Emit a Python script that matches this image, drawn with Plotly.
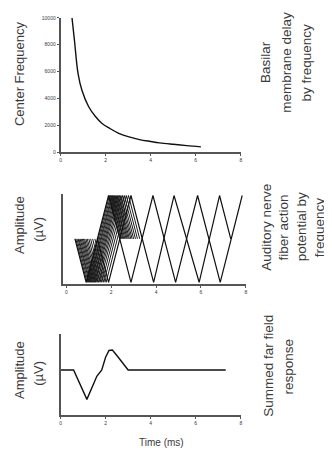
import plotly.graph_objects as go

# page body adds an 8px margin, so the figure is 8px smaller and coordinates are shifted
W, H = 332, 455
OFF = 8
FW, FH = W - OFF, H - OFF

# ---- Panel 1: basilar membrane delay by frequency ----
bm_time = [0.51, 0.62, 0.78, 0.95, 1.25, 1.55, 1.83, 2.2, 2.56, 3.0, 3.5, 4.0, 4.4, 5.0, 5.6, 6.23]
bm_freq = [10000, 8300, 5830, 4610, 3380, 2650, 2150, 1750, 1420, 1150, 930, 790, 690, 580, 480, 390]

# ---- Panel 2: auditory nerve fiber action potentials ----
unit_starts = [0.42, 0.47, 0.52, 0.56, 0.61, 0.66, 0.71, 0.76, 0.81, 0.87, 0.93, 1.0, 1.08, 1.17, 1.27]
unit_shape_t = [0.0, 0.5, 1.5, 2.0]
unit_shape_a = [0.5, 0.0, 1.0, 0.5]
longA_t = [0.38, 0.88, 1.88, 2.88, 3.86, 4.87, 5.85, 6.86, 7.84]
longA_a = [0.5, 0.0, 1.0, 0.0, 1.0, 0.0, 1.0, 0.0, 1.0]
longB_t = [1.38, 1.88, 2.88, 3.89, 4.80, 5.92, 6.83, 7.33]
longB_a = [0.5, 0.0, 1.0, 0.0, 1.0, 0.0, 1.0, 0.5]

# ---- Panel 3: summed far field response ----
sum_t = [0.0, 0.58, 1.17, 1.61, 1.83, 2.0, 2.15, 2.3, 2.5, 3.0, 7.33]
sum_v = [0.0, 0.0, -0.646, -0.139, 0.0, 0.28, 0.43, 0.44, 0.32, 0.0, 0.0]

ticks_x = [0, 2, 4, 6, 8]
ticks_f = [0, 2000, 4000, 6000, 8000, 10000]
ticks_f_text = ["0", "2000", "4000", "6000", "8000", "10000"]

LINE = dict(color="#111111", width=1.4)
AX = "#555555"
TXT = "#3a3a3a"
FONT = "Liberation Sans, Arial, sans-serif"

fig = go.Figure()
fig.add_trace(go.Scatter(x=bm_time, y=bm_freq, mode="lines", line=dict(shape="spline", **LINE),
                         xaxis="x", yaxis="y", showlegend=False))
for s in unit_starts:
    fig.add_trace(go.Scatter(x=[s + d for d in unit_shape_t], y=unit_shape_a, mode="lines",
                             line=dict(color="#1a1a1a", width=1.0), xaxis="x2", yaxis="y2", showlegend=False))
fig.add_trace(go.Scatter(x=longA_t, y=longA_a, mode="lines", line=dict(color="#111111", width=1.2),
                         xaxis="x2", yaxis="y2", showlegend=False))
fig.add_trace(go.Scatter(x=longB_t, y=longB_a, mode="lines", line=dict(color="#111111", width=1.2),
                         xaxis="x2", yaxis="y2", showlegend=False))
fig.add_trace(go.Scatter(x=sum_t, y=sum_v, mode="lines", line=LINE,
                         xaxis="x3", yaxis="y3", showlegend=False))

def px(x):
    return (x - OFF) / FW

def py(y):
    return 1 - (y - OFF) / FH

common = dict(showline=True, linecolor=AX, linewidth=1.6, showgrid=False, zeroline=False,
              tickfont=dict(size=5, color=TXT, family=FONT))

fig.update_layout(
    width=FW, height=FH, margin=dict(l=0, r=0, t=0, b=0),
    paper_bgcolor="white", plot_bgcolor="white",
    font=dict(family=FONT, color=TXT),
    xaxis=dict(domain=[px(60), px(242)], range=[0, 8], tickvals=ticks_x, ticks="outside",
               ticklen=2, tickcolor=AX, anchor="y", **common),
    yaxis=dict(domain=[py(151), py(15)], range=[0, 10000], tickvals=ticks_f, ticktext=ticks_f_text,
               ticks="outside", ticklen=2, tickcolor=AX, anchor="x", **common),
    xaxis2=dict(domain=[px(63), px(247)], range=[-0.13, 8], tickvals=ticks_x, ticks="outside",
                ticklen=2, tickcolor=AX, anchor="y2", **common),
    yaxis2=dict(domain=[py(285), py(193)], range=[-0.023, 1.023], showticklabels=False,
                anchor="x2", **common),
    xaxis3=dict(domain=[px(60), px(242)], range=[0, 8], tickvals=ticks_x, ticks="outside",
                ticklen=2, tickcolor=AX, anchor="y3", **common),
    yaxis3=dict(domain=[py(418), py(335)], range=[-1.0, 0.8], showticklabels=False,
                anchor="x3", **common),
)

def label(text, x, y, size=12, angle=-90):
    fig.add_annotation(text=text, x=px(x), y=py(y), xref="paper", yref="paper",
                       showarrow=False, textangle=angle, xanchor="center", yanchor="middle",
                       font=dict(size=size, color=TXT, family=FONT))

label("Center Frequency", 18, 71, size=13)
label("Amplitude", 18, 225, size=13)
label("(µV)", 37, 229, size=13)
label("Amplitude", 18, 372, size=13)
label("(µV)", 37, 375, size=13)

for t, x in zip(["Basilar", "membrane delay", "by frequency"], [267, 288, 308]):
    label(t, x, 60, size=13.5)
for t, x in zip(["Auditory nerve", "fiber action", "potential by", "frequency"], [267, 285, 303, 321]):
    label(t, x, 227, size=13.5)
for t, x in zip(["Summed far field", "response"], [270, 290]):
    label(t, x, 368, size=13.5)

label("Time (ms)", 162, 445, size=10, angle=0)

fig.write_html("out.html")
